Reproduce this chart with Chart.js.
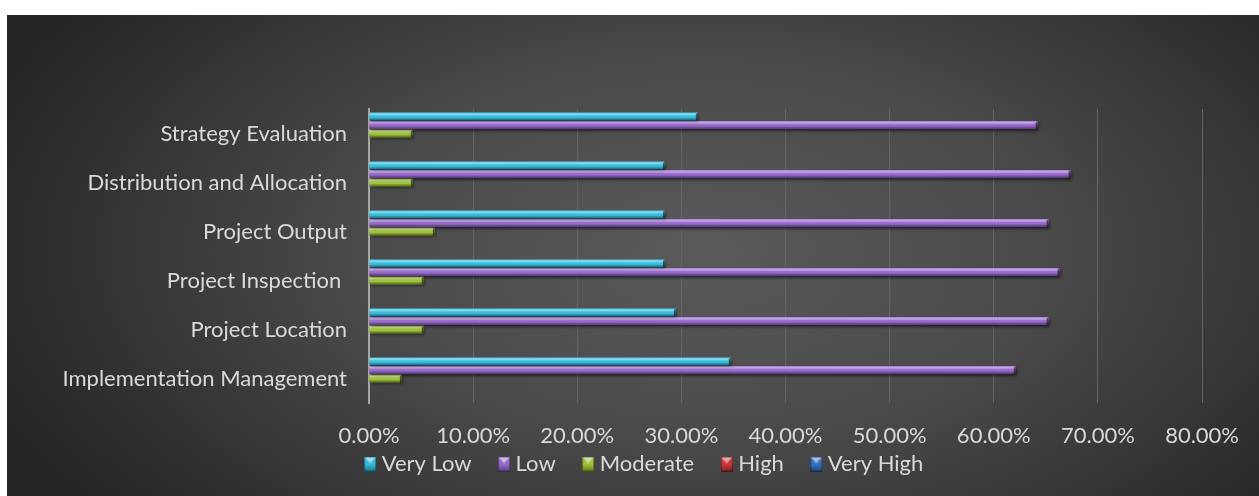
<!DOCTYPE html>
<html>
<head>
<meta charset="utf-8">
<script src="https://cdn.jsdelivr.net/npm/chart.js@4.4.1/dist/chart.umd.min.js"></script>
<style>
  html, body { margin: 0; padding: 0; background: #fff; }
  #wrap { width: 1259px; height: 496px; position: relative; }
</style>
</head>
<body>
<div id="wrap"><canvas id="hBarChart"></canvas></div>
<script>
// categories top to bottom
const categories = [
    "Strategy Evaluation",
    "Distribution and Allocation",
    "Project Output",
    "Project Inspection ",
    "Project Location",
    "Implementation Management"
];

// percentages per category
const veryLow  = [31.58, 28.42, 28.42, 28.42, 29.47, 34.74];
const low      = [64.21, 67.37, 65.26, 66.32, 65.26, 62.11];
const moderate = [4.21, 4.21, 6.32, 5.26, 5.26, 3.16];
const high     = [0, 0, 0, 0, 0, 0];
const veryHigh = [0, 0, 0, 0, 0, 0];

const seriesNames = ["Very Low", "Low", "Moderate", "High", "Very High"];
const xTicks = [0, 10, 20, 30, 40, 50, 60, 70, 80];

const seriesColors = ["#37bfdf", "#9a6bcf", "#a3c83b", "#cf3a3a", "#3873c6"];
const textColor = "#d9d9d9";
const labelFont = { family: "Lato", size: 22 };

// small bevelled swatch used as the legend marker
function makeSwatch(color) {
    const c = document.createElement("canvas");
    c.width = 12;
    c.height = 15;
    const g = c.getContext("2d");
    g.fillStyle = color;
    g.fillRect(0, 0, 12, 15);
    let grad = g.createLinearGradient(0, 0, 0, 15);
    grad.addColorStop(0, "rgba(255,255,255,0.25)");
    grad.addColorStop(0.5, "rgba(0,0,0,0)");
    grad.addColorStop(1, "rgba(0,0,0,0.4)");
    g.fillStyle = grad;
    g.fillRect(0, 0, 12, 15);
    // light triangle on top face
    g.fillStyle = "rgba(255,255,255,0.5)";
    g.beginPath();
    g.moveTo(1, 1);
    g.lineTo(11, 1);
    g.lineTo(6, 7);
    g.closePath();
    g.fill();
    g.strokeStyle = "rgba(0,0,0,0.35)";
    g.lineWidth = 1;
    g.strokeRect(0.5, 0.5, 11, 14);
    return c;
}
const swatches = seriesColors.map(makeSwatch);

// dark radial backdrop behind the chart
const backdrop = {
    id: "backdrop",
    beforeDraw(chart) {
        const ctx = chart.ctx;
        const w = chart.width, h = chart.height;
        ctx.save();
        ctx.fillStyle = "#ffffff";
        ctx.fillRect(0, 0, w, h);
        ctx.beginPath();
        ctx.rect(7, 15, w - 7, h - 15);
        ctx.clip();
        ctx.translate(700, 250);
        ctx.scale(1, 0.55);
        const g = ctx.createRadialGradient(0, 0, 0, 0, 0, 760);
        g.addColorStop(0, "#5a5a5a");
        g.addColorStop(0.45, "#4a4a4a");
        g.addColorStop(1, "#252525");
        ctx.fillStyle = g;
        ctx.fillRect(-800, -600, 1600, 1200);
        ctx.restore();
    },
    // legend sits a little higher and further right than the default bottom slot
    afterLayout(chart) {
        const lg = chart.legend;
        lg.top -= 28;
        lg.bottom -= 28;
        lg.left += 40;
        lg.right += 40;
    }
};

// drop shadow under bars, then highlight / shade strips and an end cap
const bevel = {
    id: "bevel",
    beforeDatasetsDraw(chart) {
        const ctx = chart.ctx;
        ctx.save();
        ctx.shadowColor = "rgba(0,0,0,0.55)";
        ctx.shadowBlur = 3;
        ctx.shadowOffsetX = 1;
        ctx.shadowOffsetY = 2;
    },
    afterDatasetsDraw(chart) {
        const ctx = chart.ctx;
        ctx.restore();
        ctx.save();
        chart.data.datasets.forEach((ds, i) => {
            chart.getDatasetMeta(i).data.forEach(bar => {
                const p = bar.getProps(["x", "y", "base", "height"], true);
                const w = p.x - p.base;
                if (w <= 0) return;
                const top = p.y - p.height / 2;
                const h = p.height;
                const g = ctx.createLinearGradient(0, top, 0, top + h);
                g.addColorStop(0, "rgba(255,255,255,0.10)");
                g.addColorStop(0.22, "rgba(255,255,255,0.45)");
                g.addColorStop(0.42, "rgba(255,255,255,0.05)");
                g.addColorStop(0.6, "rgba(0,0,0,0)");
                g.addColorStop(1, "rgba(0,0,0,0.5)");
                ctx.fillStyle = g;
                ctx.fillRect(p.base, top, w, h);
                ctx.fillStyle = "rgba(0,0,0,0.55)";
                ctx.beginPath();
                ctx.moveTo(p.x - 2, top + 1.5);
                ctx.lineTo(p.x, top);
                ctx.lineTo(p.x, top + h);
                ctx.lineTo(p.x - 2, top + h);
                ctx.closePath();
                ctx.fill();
            });
        });
        ctx.restore();
    }
};

const seriesValues = [veryLow, low, moderate, high, veryHigh];

new Chart(document.getElementById("hBarChart"), {
    type: "bar",
    data: {
        labels: categories,
        datasets: seriesNames.map((name, i) => ({
            label: name,
            data: seriesValues[i],
            backgroundColor: seriesColors[i],
            borderWidth: 0,
            categoryPercentage: 0.87,
            barPercentage: 0.92
        }))
    },
    options: {
        indexAxis: "y",
        responsive: true,
        maintainAspectRatio: false,
        animation: false,
        layout: { padding: { left: 0, right: 46, top: 109, bottom: -17 } },
        plugins: {
            tooltip: { enabled: false },
            legend: {
                position: "bottom",
                labels: {
                    color: textColor,
                    font: labelFont,
                    usePointStyle: true,
                    boxWidth: 1,
                    boxHeight: 15,
                    padding: 32,
                    generateLabels(chart) {
                        const items = Chart.defaults.plugins.legend.labels.generateLabels(chart);
                        items.forEach((it, i) => { it.pointStyle = swatches[i]; });
                        return items;
                    }
                }
            }
        },
        scales: {
            x: {
                min: 0,
                max: 80,
                afterBuildTicks: scale => { scale.ticks = xTicks.map(v => ({ value: v })); },
                afterFit: scale => { scale.height = 46; },
                grid: { color: "#646464", lineWidth: 1, drawTicks: false },
                border: { display: false },
                ticks: {
                    color: textColor,
                    font: labelFont,
                    padding: 20,
                    maxRotation: 0,
                    callback: v => v.toFixed(2) + "%"
                }
            },
            y: {
                afterFit: scale => { scale.width = 369; },
                grid: { display: false, drawTicks: false },
                border: { display: true, color: "#a6a6a6", width: 2 },
                ticks: { color: textColor, font: labelFont, padding: 22 }
            }
        }
    },
    plugins: [backdrop, bevel]
});
</script>
</body>
</html>
